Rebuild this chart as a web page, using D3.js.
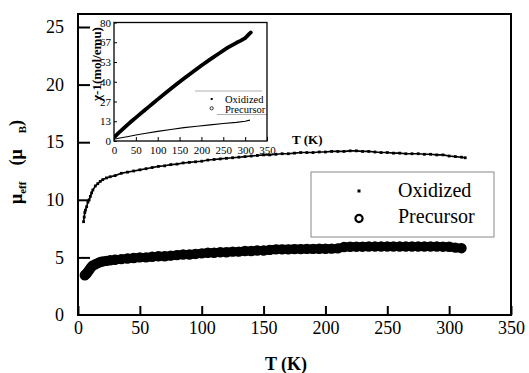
<!DOCTYPE html>
<html><head><meta charset="utf-8">
<script src="https://cdn.jsdelivr.net/npm/d3@7"></script>
<style>body{margin:0;background:#fff}svg{display:block}
svg text{font-family:"Liberation Serif","Times New Roman",Times,"DejaVu Serif",serif;fill:#000}</style>
</head><body><svg id="c" width="529" height="373"></svg>
<script>
// ---------- data ----------
const xTicks = [0, 50, 100, 150, 200, 250, 300, 350];
const yTicks = [0, 5, 10, 15, 20, 25];
const legendLabels = ["Oxidized", "Precursor"];

const oxT  = [4.5,5,5.5,6,7,8,9,10,11,12,14,16,18,20,23,26,30,35,40,45,50,55,60,65,70,75,80,85,90,95,100,105,110,115,120,125,130,135,140,145,150,155,160,165,170,175,180,185,190,195,200,205,210,215,220,225,230,235,240,245,250,255,260,265,270,275,280,285,290,295,300,305,310,313];
const oxMu = [8.1,8.5,8.9,9.1,9.4,9.8,10.0,10.3,10.6,10.85,11.2,11.4,11.6,11.75,11.9,12.0,12.1,12.3,12.4,12.5,12.6,12.7,12.8,12.9,12.95,13.05,13.1,13.2,13.25,13.3,13.35,13.45,13.5,13.55,13.6,13.65,13.7,13.75,13.8,13.85,13.9,13.9,13.95,14.0,14.0,14.05,14.1,14.1,14.1,14.15,14.15,14.2,14.2,14.2,14.25,14.25,14.2,14.2,14.15,14.1,14.1,14.05,14.05,14.0,14.0,14.0,13.95,13.95,13.9,13.9,13.8,13.75,13.7,13.65];

const prT  = [5.5,6,7,8,9,10,11,12,14,16,18,20,23,26,30,35,40,45,50,55,60,65,70,75,80,85,90,95,100,105,110,115,120,125,130,135,140,145,150,155,160,165,170,175,180,185,190,195,200,205,210,215,220,225,230,235,240,245,250,255,260,265,270,275,280,285,290,295,300,305,310];
const prMu = [3.45,3.5,3.6,3.75,3.9,4.05,4.2,4.3,4.4,4.5,4.6,4.65,4.7,4.75,4.8,4.85,4.9,4.95,5.0,5.0,5.05,5.1,5.1,5.15,5.2,5.25,5.25,5.3,5.35,5.4,5.4,5.45,5.45,5.5,5.5,5.55,5.55,5.6,5.6,5.65,5.7,5.7,5.7,5.72,5.72,5.74,5.74,5.75,5.75,5.76,5.78,5.9,5.92,5.93,5.93,5.94,5.94,5.95,5.95,5.95,5.95,5.95,5.95,5.95,5.95,5.95,5.94,5.93,5.92,5.85,5.8];

const insetXTicks = [0, 50, 100, 150, 200, 250, 300, 350];
const insetYTicks = [0, 13.333, 26.667, 40, 53.333, 66.667, 80];

const insetPrT   = [2,10,20,30,40,50,60,70,80,90,100,120,140,160,180,200,220,240,260,280,290,300,305,310,313];
const insetPrChi = [3,5.3,8,10.7,13.3,15.8,18.3,20.8,23.2,25.7,28.1,32.9,37.6,42.2,46.6,51,55.1,59.1,63,66.3,67.8,69.5,71,72.5,73.3];

const insetOxT   = [0,10,20,30,50,70,100,130,160,190,220,250,280,300,311];
const insetOxChi = [1.2,1.8,2.4,2.9,4.0,5.1,6.5,7.8,9.0,10.0,10.9,11.8,12.6,13.3,14.1];

// ---------- main chart ----------
const svg = d3.select("#c");
svg.append("rect").attr("width", 529).attr("height", 373).attr("fill", "#fff");

const x = d3.scaleLinear().domain([0, 350]).range([78, 511]);
const y = d3.scaleLinear().domain([0, 25]).range([315, 27]);
const frameTop = 14;

const gx = svg.append("g").attr("transform", `translate(0,${y(0)})`)
  .call(d3.axisBottom(x).tickValues(xTicks).tickSizeInner(-9).tickSizeOuter(0).tickPadding(6));
const gy = svg.append("g").attr("transform", `translate(${x(0)},0)`)
  .call(d3.axisLeft(y).tickValues(yTicks).tickSizeInner(-12).tickSizeOuter(0).tickPadding(14));
[gx, gy].forEach(g => {
  g.attr("font-family", null);
  g.select(".domain").remove();
  g.selectAll(".tick line").attr("stroke", "#000").attr("stroke-width", 2);
  g.selectAll(".tick text").attr("font-size", 18);
});
gy.selectAll(".tick").filter(d => d === 0).select("line").remove();

svg.append("rect").attr("x", x(0)).attr("y", frameTop)
  .attr("width", x(350) - x(0)).attr("height", y(0) - frameTop)
  .attr("fill", "none").attr("stroke", "#000").attr("stroke-width", 2);

// precursor series (open circles, dense)
const prData = prT.map((t, i) => [t, prMu[i]]);
svg.append("path").datum(prData)
  .attr("d", d3.line().x(d => x(d[0])).y(d => y(d[1])))
  .attr("fill", "none").attr("stroke", "#000").attr("stroke-width", 9)
  .attr("stroke-linecap", "round").attr("stroke-linejoin", "round");
svg.append("g").selectAll("circle").data(prData).join("circle")
  .attr("cx", d => x(d[0])).attr("cy", d => y(d[1])).attr("r", 4.1)
  .attr("fill", "none").attr("stroke", "#000").attr("stroke-width", 2.2);

// oxidized series (small dots)
const oxData = oxT.map((t, i) => [t, oxMu[i]]);
svg.append("path").datum(oxData)
  .attr("d", d3.line().x(d => x(d[0])).y(d => y(d[1])))
  .attr("fill", "none").attr("stroke", "#000").attr("stroke-width", 1.6);
svg.append("g").selectAll("rect").data(oxData).join("rect")
  .attr("x", d => x(d[0]) - 1.4).attr("y", d => y(d[1]) - 1.4)
  .attr("width", 2.8).attr("height", 2.8).attr("fill", "#000");

// legend
const lg = svg.append("g");
lg.append("rect").attr("x", 311).attr("y", 172).attr("width", 183).attr("height", 65)
  .attr("fill", "#fff").attr("stroke", "#888").attr("stroke-width", 1);
lg.append("rect").attr("x", 357.5).attr("y", 189.5).attr("width", 3).attr("height", 3).attr("fill", "#000");
lg.append("circle").attr("cx", 359).attr("cy", 218.5).attr("r", 3.6)
  .attr("fill", "none").attr("stroke", "#000").attr("stroke-width", 2.2);
lg.selectAll("text").data(legendLabels).join("text")
  .attr("x", 398).attr("y", (d, i) => 197 + i * 26)
  .attr("font-size", 20).text(d => d);

// axis titles
svg.append("text").attr("x", 286).attr("y", 370).attr("text-anchor", "middle")
  .attr("font-size", 18).attr("font-weight", "bold").text("T (K)");
const yt = svg.append("text").attr("transform", "translate(22,204) rotate(-90)")
  .attr("font-size", 18).attr("font-weight", "bold");
yt.append("tspan").text("μ");
yt.append("tspan").attr("font-size", 11).attr("dy", 4).text("eff");
yt.append("tspan").attr("dx", 16).attr("dy", -4).text("(μ");
yt.append("tspan").attr("font-size", 11).attr("dx", 16).attr("dy", 4).text("B");
yt.append("tspan").attr("dy", -4).text(")");

// ---------- inset ----------
const ix = d3.scaleLinear().domain([0, 350]).range([114, 267]);
const iy = d3.scaleLinear().domain([0, 80]).range([141, 22.5]);

svg.append("rect").attr("x", ix(0)).attr("y", iy(80))
  .attr("width", ix(350) - ix(0)).attr("height", iy(0) - iy(80)).attr("fill", "#fff");

svg.append("clipPath").attr("id", "insetClip").append("rect")
  .attr("x", ix(0)).attr("y", iy(80)).attr("width", ix(350) - ix(0)).attr("height", iy(0) - iy(80));
const ig = svg.append("g").attr("clip-path", "url(#insetClip)");

const iline = d3.line().x(d => ix(d[0])).y(d => iy(d[1]));
ig.append("path").datum(insetPrT.map((t, i) => [t, insetPrChi[i]]))
  .attr("d", iline).attr("fill", "none").attr("stroke", "#000").attr("stroke-width", 3.8)
  .attr("stroke-linecap", "round").attr("stroke-linejoin", "round");
ig.append("path").datum(insetOxT.map((t, i) => [t, insetOxChi[i]]))
  .attr("d", iline).attr("fill", "none").attr("stroke", "#000").attr("stroke-width", 1.1);

// inset legend (cut by the inset frame)
ig.append("line").attr("x1", 195).attr("x2", 262).attr("y1", 91).attr("y2", 91)
  .attr("stroke", "#999").attr("stroke-width", 0.8);
ig.append("line").attr("x1", 217).attr("x2", 280).attr("y1", 114.5).attr("y2", 114.5)
  .attr("stroke", "#999").attr("stroke-width", 0.8);
ig.append("rect").attr("x", 210.7).attr("y", 98).attr("width", 2).attr("height", 2).attr("fill", "#000");
ig.append("circle").attr("cx", 211.7).attr("cy", 108.3).attr("r", 1.6)
  .attr("fill", "none").attr("stroke", "#000").attr("stroke-width", 0.8);
ig.selectAll("text.leg").data(legendLabels).join("text").attr("class", "leg")
  .attr("x", 225).attr("y", (d, i) => 102.5 + i * 10)
  .attr("font-size", 10.5).text(d => d);

svg.append("rect").attr("x", ix(0)).attr("y", iy(80))
  .attr("width", ix(350) - ix(0)).attr("height", iy(0) - iy(80))
  .attr("fill", "none").attr("stroke", "#000").attr("stroke-width", 1.3);

const igx = svg.append("g").attr("transform", `translate(0,${iy(0)})`)
  .call(d3.axisBottom(ix).tickValues(insetXTicks).tickSizeInner(-4).tickSizeOuter(0).tickPadding(5));
const igy = svg.append("g").attr("transform", `translate(${ix(0)},0)`)
  .call(d3.axisLeft(iy).tickValues(insetYTicks).tickFormat(d => Math.round(d))
    .tickSizeInner(-3).tickSizeOuter(0).tickPadding(3));
[igx, igy].forEach(g => {
  g.attr("font-family", null);
  g.select(".domain").remove();
  g.selectAll(".tick line").attr("stroke", "#000").attr("stroke-width", 1);
  g.selectAll(".tick text").attr("font-size", 11);
});

svg.append("text").attr("transform", "translate(101,64) rotate(-90)")
  .attr("text-anchor", "middle").attr("font-size", 13).attr("font-weight", "bold")
  .text("χ-1(mol/emu)");
svg.append("text").attr("x", 292).attr("y", 144)
  .attr("font-size", 13).attr("font-weight", "bold").text("T (K)");
</script>
</body></html>
